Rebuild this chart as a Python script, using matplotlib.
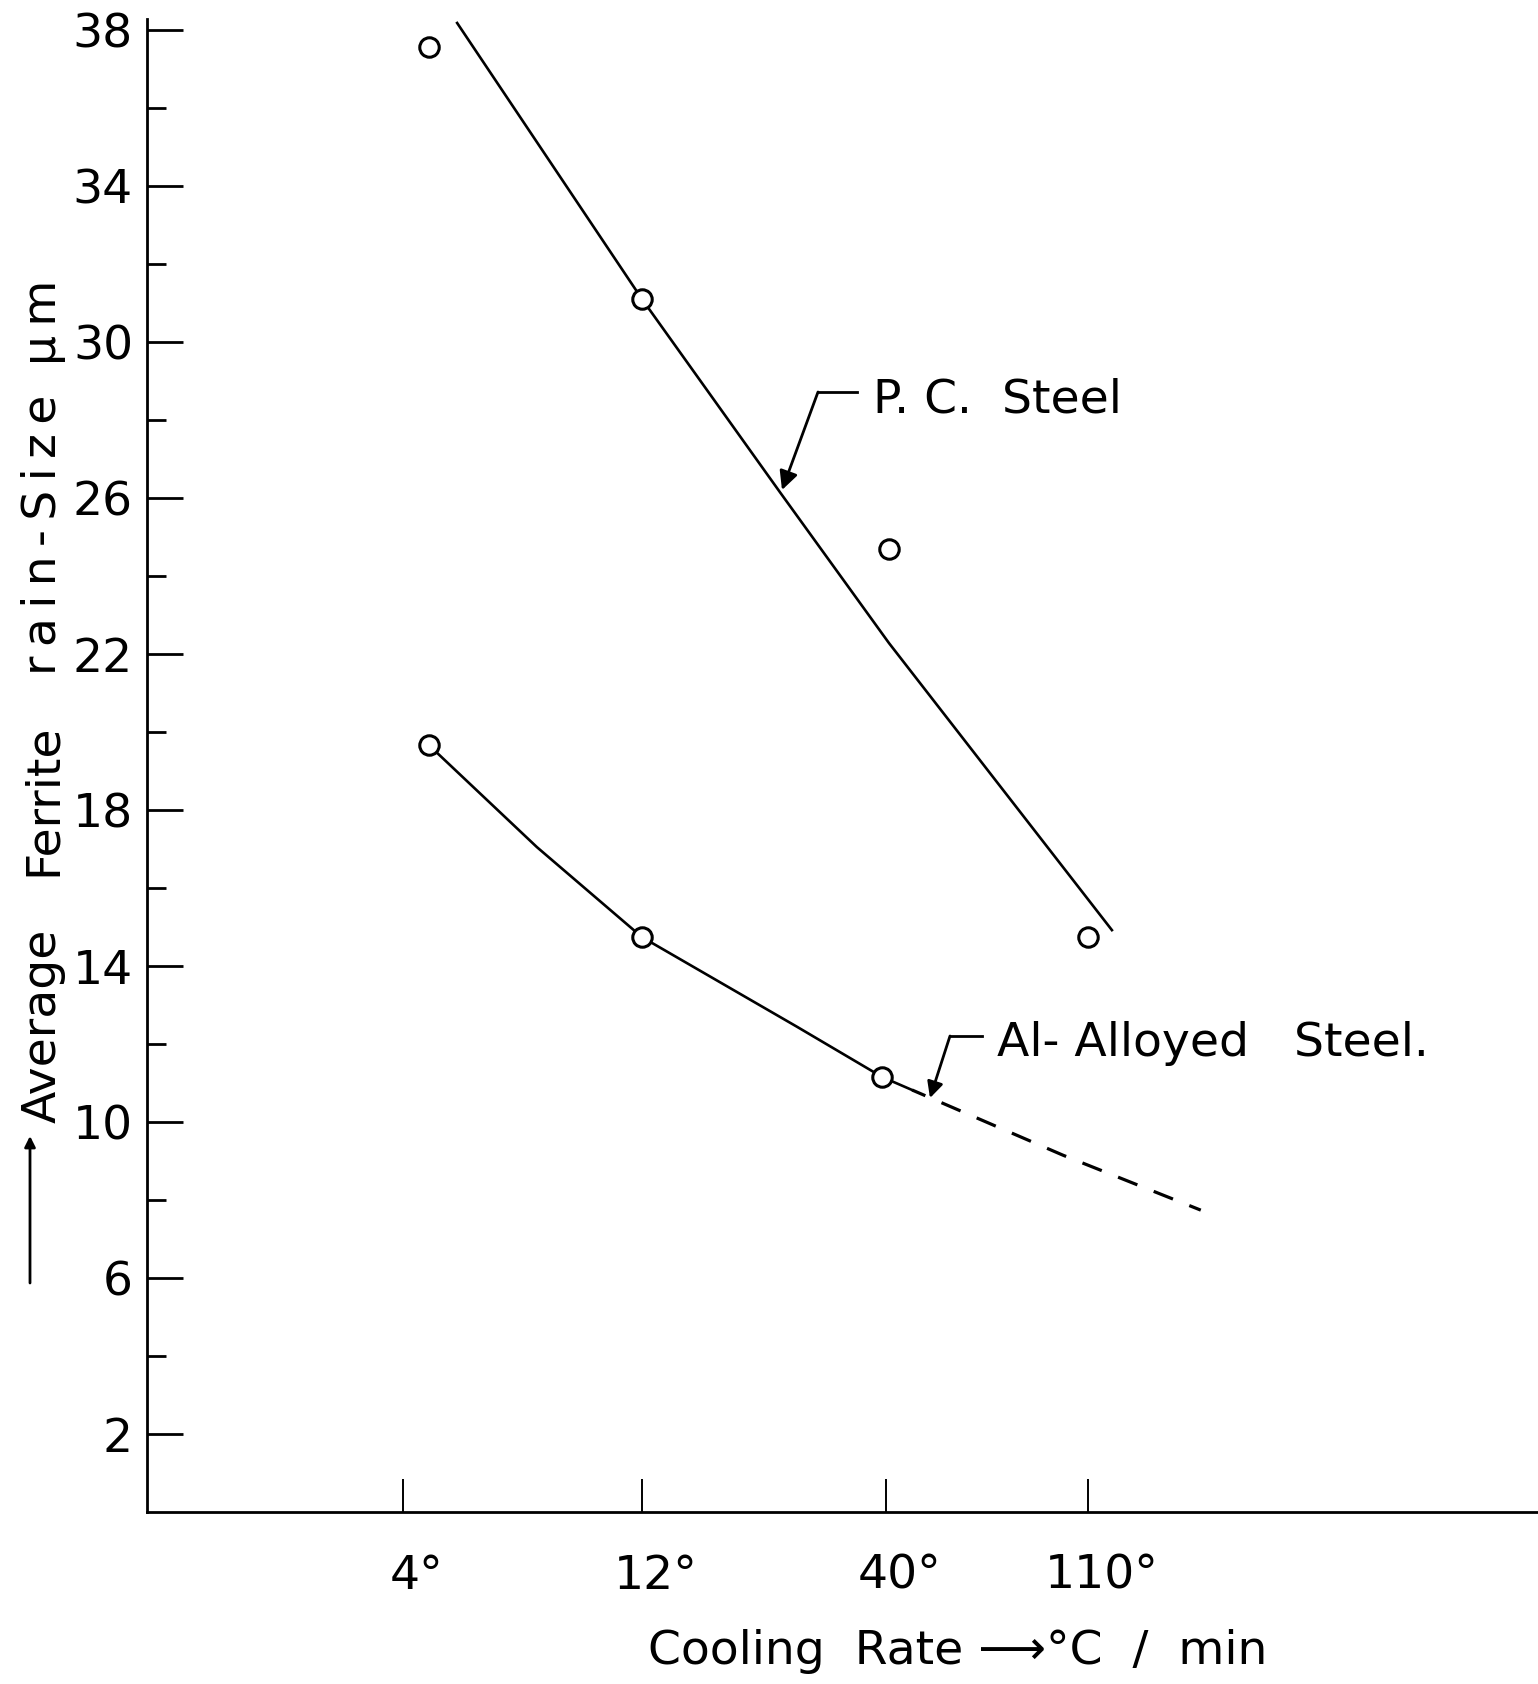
import numpy as np
import matplotlib
matplotlib.use("Agg")
import matplotlib.pyplot as plt
import matplotlib.transforms as mtransforms
from matplotlib.lines import Line2D

# ---------------- data ----------------
tick_rates = [4, 12, 40, 110]
tick_labels = ["4°", "12°", "40°", "110°"]

pc_pts_x = [4.5, 12, 40.6, 110]
pc_pts_y = [37.56, 31.1, 24.7, 14.75]
pc_line_x = [5.13, 12, 23.7, 40.6, 124]
pc_line_y = [38.18, 31.1, 26.15, 22.28, 14.92]

al_pts_x = [4.5, 12, 39.3]
al_pts_y = [19.67, 14.74, 11.15]
al_solid_x = [4.5, 7.40, 12, 25.8, 39.3, 45.6]
al_solid_y = [19.67, 17.05, 14.74, 12.44, 11.15, 10.82]
al_dash_x = [45.6, 97, 193.5]
al_dash_y = [10.82, 9.15, 7.74]

y_major = [2, 6, 10, 14, 18, 22, 26, 30, 34, 38]
y_minor = [4, 8, 12, 16, 20, 24, 28, 32, 36]

# ---------------- layout ----------------
W, H = 1538, 1684
DPI = 100
TICK_POS = np.array([403.0, 642.0, 886.0, 1088.0])   # pixel layout of x ticks
LT = np.log10(np.array(tick_rates, dtype=float))
SL = (TICK_POS[1] - TICK_POS[0]) / (LT[1] - LT[0])
SR = (TICK_POS[-1] - TICK_POS[-2]) / (LT[-1] - LT[-2])


def fwd(x):
    x = np.asarray(x, dtype=float)
    lx = np.log10(np.clip(x, 1e-6, None))
    out = np.interp(lx, LT, TICK_POS)
    out = np.where(lx < LT[0], TICK_POS[0] + (lx - LT[0]) * SL, out)
    out = np.where(lx > LT[-1], TICK_POS[-1] + (lx - LT[-1]) * SR, out)
    return out


def inv(p):
    p = np.asarray(p, dtype=float)
    lx = np.interp(p, TICK_POS, LT)
    lx = np.where(p < TICK_POS[0], LT[0] + (p - TICK_POS[0]) / SL, lx)
    lx = np.where(p > TICK_POS[-1], LT[-1] + (p - TICK_POS[-1]) / SR, lx)
    return 10 ** lx


FS = 34
plt.rcParams['font.family'] = ['DejaVu Sans']

fig = plt.figure(figsize=(W / DPI, H / DPI), dpi=DPI)
fig.patch.set_facecolor('white')

ax_left, ax_right = 147 / W, 1.0
ax_top_px, ax_bot_px = 19, 1512
ax = fig.add_axes([ax_left, 1 - ax_bot_px / H, ax_right - ax_left, (ax_bot_px - ax_top_px) / H])
ax.set_xscale('function', functions=(fwd, inv))
ax.set_xlim(float(inv(147)), float(inv(1538)))
ax.set_ylim(0, (ax_bot_px - ax_top_px) / 39.0)

for s in ['top', 'right']:
    ax.spines[s].set_visible(False)
for s in ['left', 'bottom']:
    ax.spines[s].set_linewidth(2.0)

# lines
ax.plot(pc_line_x, pc_line_y, color='black', lw=1.9, zorder=2)
ax.plot(al_solid_x, al_solid_y, color='black', lw=1.9, zorder=2,
        solid_joinstyle='round')
ax.plot(al_dash_x, al_dash_y, color='black', lw=2.3, zorder=2,
        linestyle=(2, (6.5, 5.5)))
# points
ax.plot(pc_pts_x, pc_pts_y, 'o', ms=14, mfc='white', mec='black', mew=2.2, zorder=3)
ax.plot(al_pts_x, al_pts_y, 'o', ms=14, mfc='white', mec='black', mew=2.2, zorder=3)

# ticks
ax.set_yticks(y_major)
ax.set_yticklabels([str(v) for v in y_major])
ax.set_yticks(y_minor, minor=True)
ax.tick_params(axis='y', which='major', direction='in', length=26, width=2.0,
               pad=10, labelsize=FS)
ax.tick_params(axis='y', which='minor', direction='in', length=14, width=2.0)

ax.set_xticks(tick_rates)
ax.set_xticklabels(tick_labels)
ax.xaxis.set_minor_locator(matplotlib.ticker.NullLocator())
ax.tick_params(axis='x', which='major', direction='in', length=24, width=1.4,
               pad=30, labelsize=FS)
offset = mtransforms.ScaledTranslation(14 / DPI, 0, fig.dpi_scale_trans)
for lab in ax.get_xticklabels():
    lab.set_transform(lab.get_transform() + offset)


def fp(x, y):
    return (x / W, 1 - y / H)


TS = "\u2009"
# x axis label
fig.text(*fp(958, 1652), "Cooling  Rate \u27f6\u00b0C  /  min", fontsize=FS,
         ha='center', va='center')

# y axis label (pieces)
ax.annotate('', xy=fp(30, 1136), xycoords='figure fraction',
            xytext=fp(30, 1283), textcoords='figure fraction',
            arrowprops=dict(arrowstyle='-|>', color='black', lw=2.0,
                            mutation_scale=16, shrinkA=0, shrinkB=0))
fig.text(*fp(43, 1026), "Average", fontsize=FS, rotation=90, ha='center', va='center')
fig.text(*fp(43, 800), "Ferrite", fontsize=FS, rotation=90, ha='center', va='center')
fig.text(*fp(43, 535), TS.join("rain-Size"), fontsize=FS, rotation=90,
         ha='center', va='center')
fig.text(*fp(43, 322), "\u03bc" + TS + "m", fontsize=FS, rotation=90,
         ha='center', va='center')

# annotations
fig.add_artist(Line2D([857 / W, 818 / W], [1 - 392 / H, 1 - 392 / H],
                      transform=fig.transFigure, color='black', lw=2.0))
ax.annotate('', xy=fp(782, 490), xycoords='figure fraction',
            xytext=fp(818, 392), textcoords='figure fraction',
            arrowprops=dict(arrowstyle='-|>', color='black', lw=2.0,
                            mutation_scale=28, shrinkA=0, shrinkB=0))
fig.text(*fp(873, 400), "P. C.  Steel", fontsize=FS, ha='left', va='center')

fig.add_artist(Line2D([982 / W, 950 / W], [1 - 1036 / H, 1 - 1036 / H],
                      transform=fig.transFigure, color='black', lw=2.0))
ax.annotate('', xy=fp(930, 1098), xycoords='figure fraction',
            xytext=fp(950, 1036), textcoords='figure fraction',
            arrowprops=dict(arrowstyle='-|>', color='black', lw=2.0,
                            mutation_scale=24, shrinkA=0, shrinkB=0))
fig.text(*fp(997, 1044), "Al- Alloyed   Steel.", fontsize=FS, ha='left', va='center')

fig.savefig('out.png', dpi=DPI, facecolor='white')
